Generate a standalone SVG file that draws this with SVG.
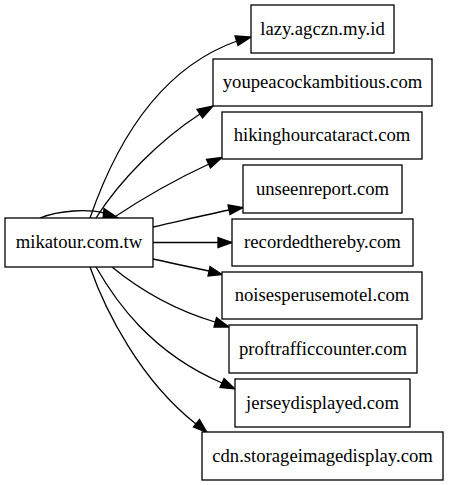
<svg xmlns="http://www.w3.org/2000/svg" width="449" height="485" viewBox="0 0 449 485">
<style>
.node rect{fill:#fff;stroke:#000;stroke-width:1.3}
.node text{font-family:'Liberation Serif','Times New Roman','DejaVu Serif',serif;font-size:18.67px;fill:#000;text-anchor:middle}
.edges path{fill:none;stroke:#000;stroke-width:1.3}
.edges polygon{fill:#000;stroke:#000;stroke-width:1.3}
</style>
<rect width="449" height="485" fill="#fff"/>
<g class="edges">
<path d="M40,218 C60,210 88,209 104,213"/>
<polygon points="104,208.5 118,218 103,219"/>
<path d="M90,218 C110,160 150,72 237,41"/>
<polygon points="235,36 251,37 238,45.5"/>
<path d="M96,218 C120,180 160,140 200,114"/>
<polygon points="197,109.5 213,106 202.5,118"/>
<path d="M113,218 C140,200 170,182 209,164"/>
<polygon points="206.5,159.5 222,157.5 210.5,168"/>
<path d="M153,227 C180,221 205,215 229,210"/>
<polygon points="228,205 243,207.5 230,214.5"/>
<path d="M153,242.5 L218,242.5"/>
<polygon points="218,237.5 232,242.5 218,247.5"/>
<path d="M153,259 C175,264 195,268 209,271"/>
<polygon points="210,266.5 222,274.5 208,276"/>
<path d="M112,267 C140,290 175,310 215,322"/>
<polygon points="216.5,317.5 229,327 214,327"/>
<path d="M96,267 C115,300 150,352 222,383"/>
<polygon points="224,378.5 235,389 220,387.5"/>
<path d="M90,267 C105,310 140,380 196,424"/>
<polygon points="199.5,419.5 207,432.5 193.5,427"/>
</g>
<g id="n0" class="node"><rect x="5" y="218" width="148" height="49"/><text x="79" y="248" font-family="Liberation Serif, serif">mikatour.com.tw</text></g>
<g id="n1" class="node"><rect x="251" y="5" width="143" height="48"/><text x="322.5" y="34.5" font-family="Liberation Serif, serif">lazy.agczn.my.id</text></g>
<g id="n2" class="node"><rect x="213" y="59" width="219" height="47"/><text x="322.5" y="88" font-family="Liberation Serif, serif">youpeacockambitious.com</text></g>
<g id="n3" class="node"><rect x="222" y="112" width="200" height="47"/><text x="322" y="141" font-family="Liberation Serif, serif">hikinghourcataract.com</text></g>
<g id="n4" class="node"><rect x="243" y="165" width="159" height="48"/><text x="322.5" y="194.5" font-family="Liberation Serif, serif">unseenreport.com</text></g>
<g id="n5" class="node"><rect x="232" y="219" width="181" height="47"/><text x="322.5" y="248" font-family="Liberation Serif, serif">recordedthereby.com</text></g>
<g id="n6" class="node"><rect x="222" y="272" width="200" height="47"/><text x="322" y="301" font-family="Liberation Serif, serif">noisesperusemotel.com</text></g>
<g id="n7" class="node"><rect x="229" y="325" width="188" height="48"/><text x="323" y="354.5" font-family="Liberation Serif, serif">proftrafficcounter.com</text></g>
<g id="n8" class="node"><rect x="235" y="379" width="175" height="48"/><text x="322.5" y="408.5" font-family="Liberation Serif, serif">jerseydisplayed.com</text></g>
<g id="n9" class="node"><rect x="202" y="432" width="241" height="48"/><text x="322.5" y="461.5" font-family="Liberation Serif, serif">cdn.storageimagedisplay.com</text></g>
</svg>
